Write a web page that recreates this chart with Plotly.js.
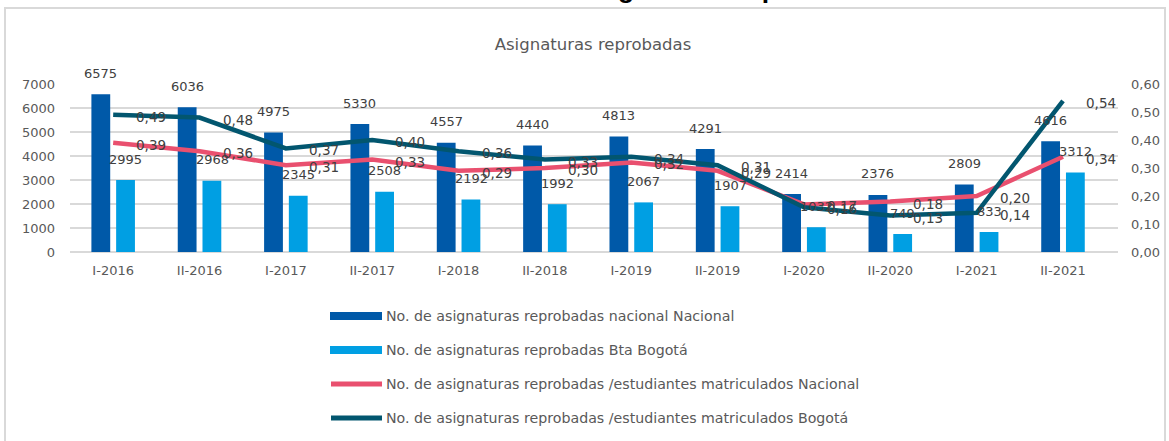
<!DOCTYPE html>
<html>
<head>
<meta charset="utf-8">
<script src="https://cdn.plot.ly/plotly-3.0.1.min.js"></script>
<style>html,body{margin:0;padding:0;background:#fff;}#chart{width:1169px;height:441px;}</style>
</head>
<body>
<div id="chart"></div>
<script>
const categories = ['I-2016','II-2016','I-2017','II-2017','I-2018','II-2018','I-2019','II-2019','I-2020','II-2020','I-2021','II-2021'];
const nacional = [6575, 6036, 4975, 5330, 4557, 4440, 4813, 4291, 2414, 2376, 2809, 4616];
const bogota = [2995, 2968, 2345, 2508, 2192, 1992, 2067, 1907, 1032, 749, 833, 3312];
const ratioNacional = [0.39, 0.36, 0.31, 0.33, 0.29, 0.30, 0.32, 0.29, 0.17, 0.18, 0.20, 0.34];
const ratioBogota = [0.49, 0.48, 0.37, 0.40, 0.36, 0.33, 0.34, 0.31, 0.16, 0.13, 0.14, 0.54];
const seriesNames = [
  'No. de asignaturas reprobadas nacional Nacional',
  'No. de asignaturas reprobadas Bta Bogotá',
  'No. de asignaturas reprobadas /estudiantes matriculados Nacional',
  'No. de asignaturas reprobadas /estudiantes matriculados Bogotá'
];
const chartTitle = 'Asignaturas reprobadas';

const C_DARK = '#0059A8', C_LIGHT = '#009FE3', C_PINK = '#E9506F', C_TEAL = '#02566F';
const FONT = 'DejaVu Sans, sans-serif';
const GREY = '#595959', LABEL = '#404040', GRID = '#D9D9D9';

// plot-area pixel helpers (plot area: x 70..1118, y 84..252)
const L = 70, R = 51, T = 84, B = 189, W = 1169, H = 441;
const PW = W - L - R, PH = H - T - B;
const px = v => (v - L) / PW;
const py = v => (H - B - v) / PH;

const traces = [
  {type:'bar', x:categories, y:nacional, name:seriesNames[0], marker:{color:C_DARK}, hoverinfo:'y'},
  {type:'bar', x:categories, y:bogota, name:seriesNames[1], marker:{color:C_LIGHT}, hoverinfo:'y'},
  {type:'scatter', mode:'lines', x:categories, y:ratioNacional, name:seriesNames[2], yaxis:'y2', line:{color:C_PINK, width:4.5}},
  {type:'scatter', mode:'lines', x:categories, y:ratioBogota, name:seriesNames[3], yaxis:'y2', line:{color:C_TEAL, width:4.5}}
];

const fmt = v => v.toFixed(2).replace('.', ',');
const annotations = [];
categories.forEach((c, i) => {
  annotations.push({x:c, y:nacional[i], xref:'x', yref:'y', text:String(nacional[i]), showarrow:false, xshift:-12.5, yshift:21, font:{family:FONT, size:13, color:LABEL}});
  annotations.push({x:c, y:bogota[i], xref:'x', yref:'y', text:String(bogota[i]), showarrow:false, xshift:12.5, yshift:21, font:{family:FONT, size:13, color:LABEL}});
  annotations.push({x:c, y:ratioNacional[i], xref:'x', yref:'y2', text:fmt(ratioNacional[i]), showarrow:false, xanchor:'left', xshift:21, yshift:-2, font:{family:FONT, size:13.5, color:LABEL}});
  annotations.push({x:c, y:ratioBogota[i], xref:'x', yref:'y2', text:fmt(ratioBogota[i]), showarrow:false, xanchor:'left', xshift:21, yshift:-2, font:{family:FONT, size:13.5, color:LABEL}});
});

// cropped bold heading at the very top
annotations.push({xref:'paper', yref:'paper', x:px(729), y:py(-11), xanchor:'center', yanchor:'middle', showarrow:false,
  text:'<b>' + chartTitle + '</b>', font:{family:'Liberation Sans, Arial, sans-serif', size:26.4, color:'#000'}});

// custom legend
const legendY = [316, 350, 384, 418];
const shapes = [
  {type:'rect', xref:'paper', yref:'paper', x0:px(5), x1:px(1165), y0:py(8), y1:py(460), line:{color:GRID, width:2}, fillcolor:'rgba(0,0,0,0)', layer:'below'}
];
const legendColors = [C_DARK, C_LIGHT, C_PINK, C_TEAL];
seriesNames.forEach((n, k) => {
  const yc = legendY[k];
  if (k < 2) {
    shapes.push({type:'rect', xref:'paper', yref:'paper', x0:px(330), x1:px(382), y0:py(yc-4), y1:py(yc+4), line:{width:0}, fillcolor:legendColors[k]});
  } else {
    shapes.push({type:'line', xref:'paper', yref:'paper', x0:px(331), x1:px(382), y0:py(yc), y1:py(yc), line:{color:legendColors[k], width:5}});
  }
  annotations.push({xref:'paper', yref:'paper', x:px(384), y:py(yc), xanchor:'left', yanchor:'middle', showarrow:false, text:n, font:{family:FONT, size:14.2, color:GREY}});
});

const layout = {
  width:W, height:H,
  margin:{l:L, r:R, t:T, b:B, pad:0},
  paper_bgcolor:'#fff', plot_bgcolor:'#fff',
  separators:',.',
  showlegend:false,
  barmode:'group', bargap:0.427, bargroupgap:0.24,
  title:{text:chartTitle, font:{family:FONT, size:16.5, color:GREY}, x:px(593), xref:'paper', xanchor:'center', y:1-44/H, yref:'container', yanchor:'middle'},
  xaxis:{type:'category', tickfont:{family:FONT, size:13, color:GREY}, ticks:'', showgrid:false, showline:false, ticklabelstandoff:9, fixedrange:true},
  yaxis:{range:[0,7000], dtick:1000, tickformat:'d', gridcolor:GRID, gridwidth:1.5, zeroline:true, zerolinecolor:GRID, zerolinewidth:1.5, showline:false, ticks:'', tickfont:{family:FONT, size:13, color:GREY}, ticklabelstandoff:14, fixedrange:true},
  yaxis2:{overlaying:'y', side:'right', range:[0,0.6], dtick:0.1, tickformat:'.2f', showgrid:false, zeroline:false, showline:false, ticks:'', tickfont:{family:FONT, size:13, color:GREY}, ticklabelstandoff:12, fixedrange:true},
  shapes:shapes,
  annotations:annotations
};

Plotly.newPlot('chart', traces, layout, {displayModeBar:false, staticPlot:true});
</script>
</body>
</html>
